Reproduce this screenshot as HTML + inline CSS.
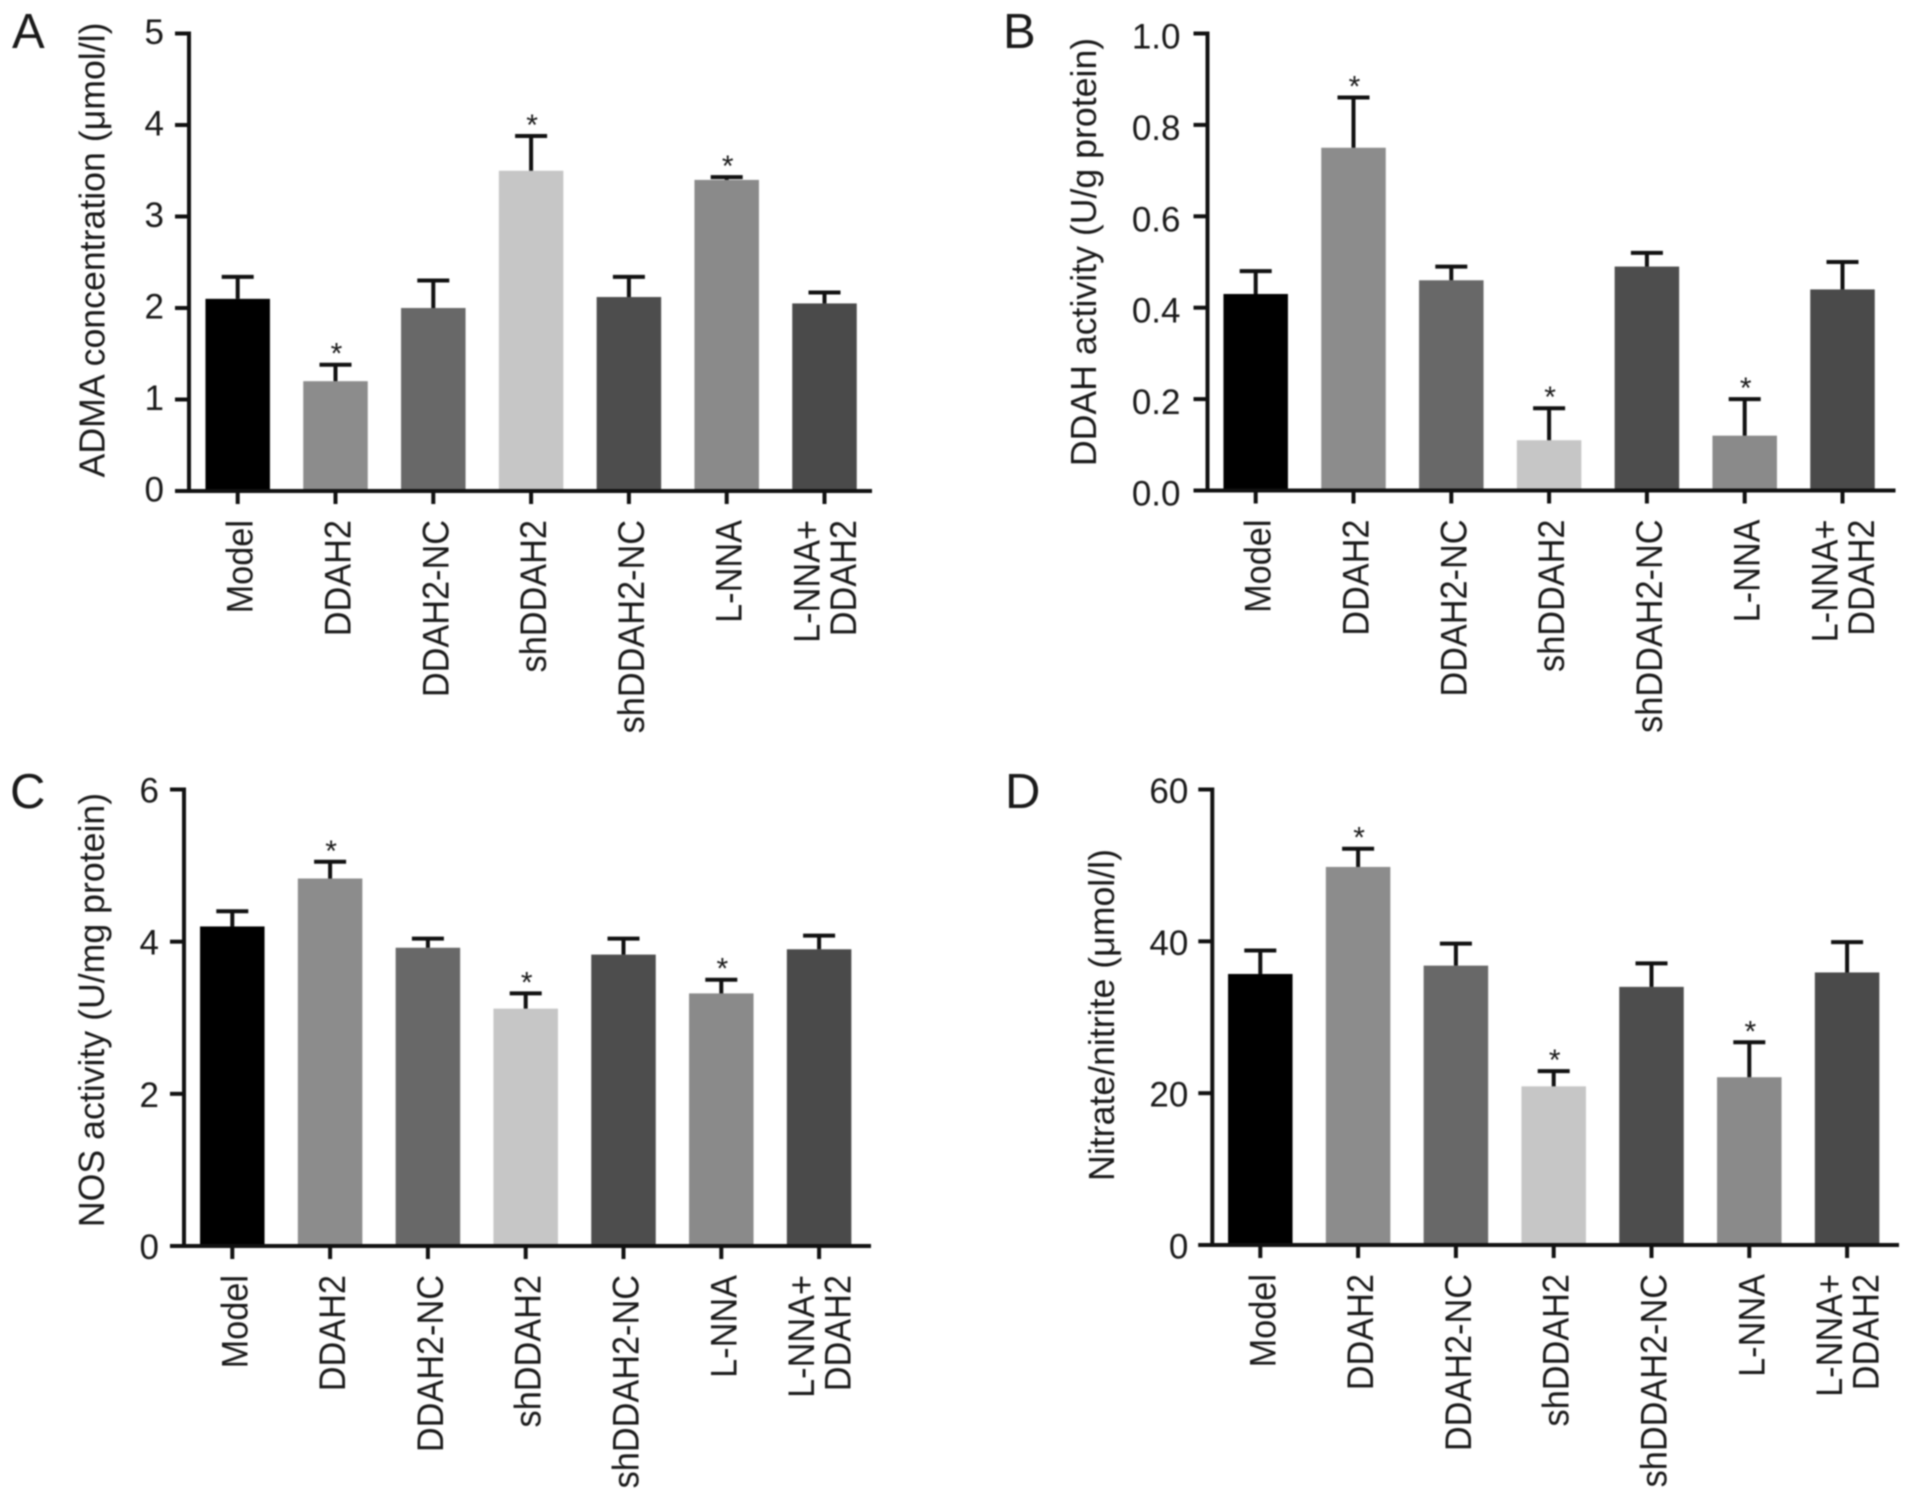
<!DOCTYPE html>
<html lang="en">
<head>
<meta charset="utf-8">
<title>Bar charts of ADMA, DDAH, NOS and nitrate/nitrite</title>
<style>
html,body{margin:0;padding:0;background:#fff}
svg{display:block;filter:blur(.7px)}
text{font-family:"Liberation Sans",sans-serif;fill:#1a1a1a}
</style>
</head>
<body>
<svg id="figure" width="1913" height="1504" viewBox="0 0 1913 1504" xmlns="http://www.w3.org/2000/svg">
  <rect width="1913" height="1504" fill="#fff"/>
  <g id="panelA">
    <text x="12" y="48" font-size="49">A</text>
    <text transform="translate(104.5,250) rotate(-90)" text-anchor="middle" font-size="35.7">ADMA concentration (μmol/l)</text>
  </g>
  <g id="panelB">
    <text x="1003" y="48" font-size="49">B</text>
    <text transform="translate(1096,252) rotate(-90)" text-anchor="middle" font-size="35.7">DDAH activity (U/g protein)</text>
  </g>
  <g id="panelC">
    <text x="10" y="808" font-size="49">C</text>
    <text transform="translate(104,1010) rotate(-90)" text-anchor="middle" font-size="35.7">NOS activity (U/mg protein)</text>
  </g>
  <g id="panelD">
    <text x="1005" y="808" font-size="49">D</text>
    <text transform="translate(1114,1015) rotate(-90)" text-anchor="middle" font-size="35.7">Nitrate/nitrite (μmol/l)</text>
  </g>
</svg>
<script>
const categories = ["Model", "DDAH2", "DDAH2-NC", "shDDAH2", "shDDAH2-NC", "L-NNA", "L-NNA+|DDAH2"];
const barColors = ["#000000", "#8c8c8c", "#686868", "#c6c6c6", "#4d4d4d", "#8a8a8a", "#4a4a4a"];

const ticksA = ["0", "1", "2", "3", "4", "5"];
const valuesA = [2.1, 1.2, 2.0, 3.5, 2.12, 3.4, 2.05];
const errorTopsA = [2.34, 1.38, 2.3, 3.88, 2.34, 3.43, 2.17];
const starsA = [0, 1, 0, 1, 0, 1, 0];

const ticksB = ["0.0", "0.2", "0.4", "0.6", "0.8", "1.0"];
const valuesB = [0.43, 0.75, 0.46, 0.11, 0.49, 0.12, 0.44];
const errorTopsB = [0.48, 0.86, 0.49, 0.18, 0.52, 0.20, 0.50];
const starsB = [0, 1, 0, 1, 0, 1, 0];

const ticksC = ["0", "2", "4", "6"];
const valuesC = [4.2, 4.83, 3.92, 3.12, 3.83, 3.32, 3.9];
const errorTopsC = [4.4, 5.05, 4.04, 3.32, 4.04, 3.5, 4.08];
const starsC = [0, 1, 0, 1, 0, 1, 0];

const ticksD = ["0", "20", "40", "60"];
const valuesD = [35.7, 49.8, 36.8, 20.9, 34, 22.1, 35.9];
const errorTopsD = [38.8, 52.2, 39.7, 22.9, 37.1, 26.7, 39.9];
const starsD = [0, 1, 0, 1, 0, 1, 0];

const SVG_NS = "http://www.w3.org/2000/svg";

function make(tag, attrs, parent) {
  const el = document.createElementNS(SVG_NS, tag);
  for (const key in attrs) el.setAttribute(key, attrs[key]);
  parent.appendChild(el);
  return el;
}

function drawPanel(groupId, prefix, layout, ticks, values, errorTops, stars) {
  const group = document.getElementById(groupId);
  const maxVal = parseFloat(ticks[ticks.length - 1]);
  const yScale = v => layout.y0 - (v / maxVal) * (layout.y0 - layout.yTop);
  const xScale = i => layout.x0 + i * layout.step;
  const barW = 64.5, capW = 32, lw = 4;

  categories.forEach((cat, i) => {
    const cx = xScale(i);

    const bar = make("rect", {x: cx - barW / 2, y: yScale(values[i]), width: barW, height: layout.y0 - yScale(values[i]), fill: barColors[i]}, group);
    
    

    const stem = make("line", {x1: cx, x2: cx, y1: yScale(values[i]), y2: yScale(errorTops[i]), stroke: "#111", "stroke-width": lw}, group);
    
    

    const cap = make("line", {x1: cx - capW / 2, x2: cx + capW / 2, y1: yScale(errorTops[i]), y2: yScale(errorTops[i]), stroke: "#111", "stroke-width": lw}, group);
    
    

    if (stars[i]) {
      const star = make("text", {x: cx + 1, y: yScale(errorTops[i]) - 1, "text-anchor": "middle", "font-size": 30}, group);
      star.textContent = "*";
      
      
    }

    const tick = make("line", {x1: cx, x2: cx, y1: layout.y0, y2: layout.y0 + 13, stroke: "#111", "stroke-width": lw}, group);
    
    

    const lines = cat.split("|");
    lines.forEach((line, k) => {
      const lx = lines.length === 1 ? cx + 15 : cx + 13 + (k - 0.5) * 36.5;
      const label = make("text", {transform: "translate(" + lx + "," + (layout.y0 + 29) + ") rotate(-90) scale(1,1.08)", "text-anchor": "end", "font-size": 34.3}, group);
      label.textContent = line;
      
      
    });
  });

  ticks.forEach(t => {
    const ty = yScale(parseFloat(t));
    const tick = make("line", {x1: layout.axisX - 14, x2: layout.axisX, y1: ty, y2: ty, stroke: "#111", "stroke-width": lw}, group);
    
    

    const label = make("text", {x: layout.axisX - layout.labelGap, y: ty + layout.labelDy, "text-anchor": "end", "font-size": 35}, group);
    label.textContent = t;
    
    
  });

  const yAxis = make("line", {x1: layout.axisX, x2: layout.axisX, y1: layout.yTop - 2, y2: layout.y0 + 2, stroke: "#111", "stroke-width": lw}, group);
  
  

  const xAxis = make("line", {x1: layout.axisX - 14, x2: layout.xEnd, y1: layout.y0, y2: layout.y0, stroke: "#111", "stroke-width": lw}, group);
  
  
}

drawPanel("panelA", "panel-a", {axisX: 189, yTop: 33.5, y0: 491, x0: 237.7, step: 97.8, xEnd: 872, labelGap: 25, labelDy: 10.5}, ticksA, valuesA, errorTopsA, starsA);
drawPanel("panelB", "panel-b", {axisX: 1207.5, yTop: 33.5, y0: 490.5, x0: 1255.7, step: 97.8, xEnd: 1895.5, labelGap: 27, labelDy: 15}, ticksB, valuesB, errorTopsB, starsB);
drawPanel("panelC", "panel-c", {axisX: 184, yTop: 789.5, y0: 1246, x0: 232.3, step: 97.8, xEnd: 871, labelGap: 25, labelDy: 13}, ticksC, valuesC, errorTopsC, starsC);
drawPanel("panelD", "panel-d", {axisX: 1212.3, yTop: 789.5, y0: 1245, x0: 1260.3, step: 97.8, xEnd: 1899, labelGap: 24, labelDy: 13.5}, ticksD, valuesD, errorTopsD, starsD);
</script>
</body>
</html>
